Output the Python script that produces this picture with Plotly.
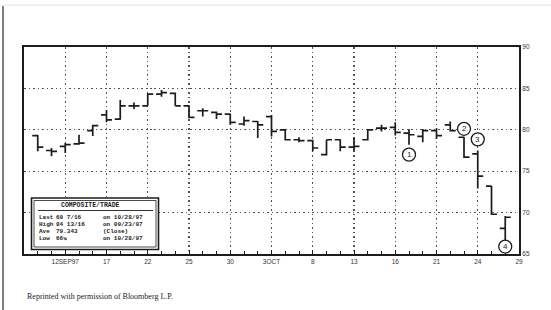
import plotly.graph_objects as go

# ---------------- data ----------------
trading_days = [
    "1997-09-09", "1997-09-10", "1997-09-11", "1997-09-12", "1997-09-15", "1997-09-16",
    "1997-09-17", "1997-09-18", "1997-09-19", "1997-09-22", "1997-09-23", "1997-09-24",
    "1997-09-25", "1997-09-26", "1997-09-29", "1997-09-30", "1997-10-01", "1997-10-02",
    "1997-10-03", "1997-10-06", "1997-10-07", "1997-10-08", "1997-10-09", "1997-10-10",
    "1997-10-13", "1997-10-14", "1997-10-15", "1997-10-16", "1997-10-17", "1997-10-20",
    "1997-10-21", "1997-10-22", "1997-10-23", "1997-10-24", "1997-10-27", "1997-10-28",
    "1997-10-29",
]
bar_dates = trading_days[1:36]

opens = [79.3, 77.5, 78.0, 78.3, 79.9, 81.8, 81.3, 82.9, 82.9, 84.3, 84.4, 82.9, 82.3, 82.1,
         81.9, 80.7, 81.0, 81.6, 80.0, 78.8, 78.7, 77.0, 78.8, 77.9, 78.8, 80.2, 80.3, 79.6,
         79.2, 79.9, 80.6, 79.1, 77.1, 73.2, 68.1]
highs = [79.4, 77.8, 78.4, 79.4, 80.6, 82.4, 83.6, 83.3, 84.4, 84.8125, 84.5, 82.95, 82.6, 82.2,
         81.95, 81.6, 81.05, 81.8, 80.1, 79.1, 78.8, 78.8, 78.85, 79.0, 80.1, 80.6, 80.9, 80.1,
         80.1, 80.2, 81.0, 79.15, 77.5, 73.25, 69.6]
lows = [77.4, 76.8, 77.2, 78.2, 79.25, 80.9, 81.2, 82.5, 82.9, 84.0, 82.9, 81.4, 81.6, 81.3,
        80.6, 80.5, 79.0, 79.2, 78.7, 78.5, 77.4, 76.9, 77.4, 77.4, 78.7, 79.8, 79.3, 78.2,
        78.5, 78.9, 79.8, 76.6, 72.9, 69.7, 66.25]
closes = [77.9, 77.4, 78.2, 78.4, 80.5, 81.2, 82.9, 82.9, 84.3, 84.5, 82.9, 81.5, 82.3, 81.9,
          80.9, 81.1, 80.6, 79.8, 78.8, 78.7, 77.8, 78.8, 77.9, 78.0, 80.0, 80.2, 79.7, 79.4,
          79.9, 79.3, 79.9, 76.7, 74.4, 69.8, 69.4375]

tick_dates = ["1997-09-12", "1997-09-17", "1997-09-22", "1997-09-25", "1997-09-30", "1997-10-03",
              "1997-10-08", "1997-10-13", "1997-10-16", "1997-10-21", "1997-10-24", "1997-10-29"]
tick_text = ["12SEP97", "17", "22", "25", "30", "3OCT", "8", "13", "16", "21", "24", "29"]
y_ticks = [65, 70, 75, 80, 85, 90]

callout_text = ["1", "2", "3", "4"]
callout_dates = ["1997-10-17", "1997-10-23", "1997-10-24", "1997-10-28"]
callout_values = [77.0, 80.12, 78.85, 65.9]

legend_title = "COMPOSITE/TRADE"
legend_labels = ["Last", "High", "Ave", "Low"]
legend_values = ["69 7/16", "84 13/16", "79.343", "66\u00bc"]
legend_notes = ["on 10/28/97", "on 09/23/97", "(Close)", "on 10/28/97"]

footer = "Reprinted with permission of Bloomberg L.P."

# ---------------- figure ----------------
W, H = 551, 310
L, R, T, B = 24, 519, 47, 254


def px(x):
    return (x - L) / (R - L)


def py(y):
    return (B - y) / (B - T)


xs = [trading_days.index(d) for d in bar_dates]
ink = "#1c1c1c"

fig = go.Figure()
fig.add_trace(go.Ohlc(
    x=xs, open=opens, high=highs, low=lows, close=closes,
    increasing=dict(line=dict(color=ink, width=1.7)),
    decreasing=dict(line=dict(color=ink, width=1.7)),
    tickwidth=0.4, showlegend=False, hoverinfo="skip",
))

shapes = []
annotations = []

# callout circles
for t, d, v in zip(callout_text, callout_dates, callout_values):
    xi = trading_days.index(d)
    shapes.append(dict(type="circle", xref="x", yref="y", xsizemode="pixel", ysizemode="pixel",
                       xanchor=xi, yanchor=v, x0=-6.5, x1=6.5, y0=-6.5, y1=6.5,
                       line=dict(color=ink, width=1.3), fillcolor="white", layer="above"))
    annotations.append(dict(x=xi, y=v, xref="x", yref="y", text=t, showarrow=False,
                            font=dict(family="Liberation Sans", size=8, color=ink),
                            xanchor="center", yanchor="middle"))

# legend box
shapes.append(dict(type="rect", xref="paper", yref="paper",
                   x0=px(31.5), x1=px(158.5), y0=py(249.5), y1=py(198),
                   line=dict(color=ink, width=1.6), fillcolor="white", layer="above"))
shapes.append(dict(type="rect", xref="paper", yref="paper",
                   x0=px(34), x1=px(156), y0=py(247), y1=py(200.5),
                   line=dict(color=ink, width=0.8), layer="above"))
shapes.append(dict(type="line", xref="paper", yref="paper",
                   x0=px(38), x1=px(153), y0=py(210.5), y1=py(210.5),
                   line=dict(color=ink, width=0.9), layer="above"))
annotations.append(dict(x=px(90), y=py(205.3), xref="paper", yref="paper",
                        text="<b>" + legend_title + "</b>",
                        showarrow=False, xanchor="center", yanchor="middle",
                        font=dict(family="Liberation Mono", size=6.5, color=ink)))
row_y = [217, 224, 231, 238]
for ry, lab, val, note in zip(row_y, legend_labels, legend_values, legend_notes):
    for xx, txt in ((37, lab), (54, val), (101, note)):
        annotations.append(dict(x=px(xx), y=py(ry), xref="paper", yref="paper",
                                text="<b>" + txt + "</b>",
                                showarrow=False, xanchor="left", yanchor="middle",
                                font=dict(family="Liberation Mono", size=6, color="#222")))

# footer
annotations.append(dict(x=px(25), y=py(296), xref="paper", yref="paper", text=footer,
                        showarrow=False, xanchor="left", yanchor="middle",
                        font=dict(family="Liberation Serif", size=8, color="#222")))

# scan edge line on the left
shapes.append(dict(type="line", xref="paper", yref="paper", x0=px(3), x1=px(3),
                   y0=py(6), y1=py(310), line=dict(color="#555", width=1.5)))
shapes.append(dict(type="line", xref="paper", yref="paper", x0=px(3), x1=px(551),
                   y0=py(5), y1=py(5), line=dict(color="#e2e2e2", width=1)))

fig.update_layout(
    width=W, height=H,
    margin=dict(l=L, r=W - R, t=T, b=H - B),
    paper_bgcolor="white", plot_bgcolor="white",
    shapes=shapes, annotations=annotations,
    showlegend=False, hovermode=False,
)
fig.update_xaxes(
    range=[0, len(trading_days) - 1],
    tickvals=[trading_days.index(d) for d in tick_dates], ticktext=tick_text,
    tickfont=dict(family="Liberation Sans", size=6.5, color="#333"),
    showgrid=True, gridcolor="#555", gridwidth=1.2, griddash="1.5px,3px",
    ticks="inside", ticklen=4, tickcolor=ink, tickwidth=1,
    minor=dict(dtick=1, tick0=0, ticks="inside", ticklen=3, tickcolor=ink, tickwidth=1,
               showgrid=False),
    showline=True, linecolor=ink, linewidth=2, mirror=True,
    zeroline=False, rangeslider=dict(visible=False), fixedrange=True,
)
fig.update_yaxes(
    range=[65, 90], side="right", tickvals=y_ticks, ticktext=[str(v) for v in y_ticks],
    tickfont=dict(family="Liberation Sans", size=6.5, color="#333"),
    showgrid=True, gridcolor="#555", gridwidth=1.2, griddash="1.5px,3px",
    ticks="", showline=True, linecolor=ink, linewidth=2, mirror=True, zeroline=False,
    fixedrange=True,
)

fig.write_html(
    "out.html",
    config={"displayModeBar": False, "staticPlot": True},
    post_script="document.body.style.margin='0';document.body.style.overflow='hidden';",
)
